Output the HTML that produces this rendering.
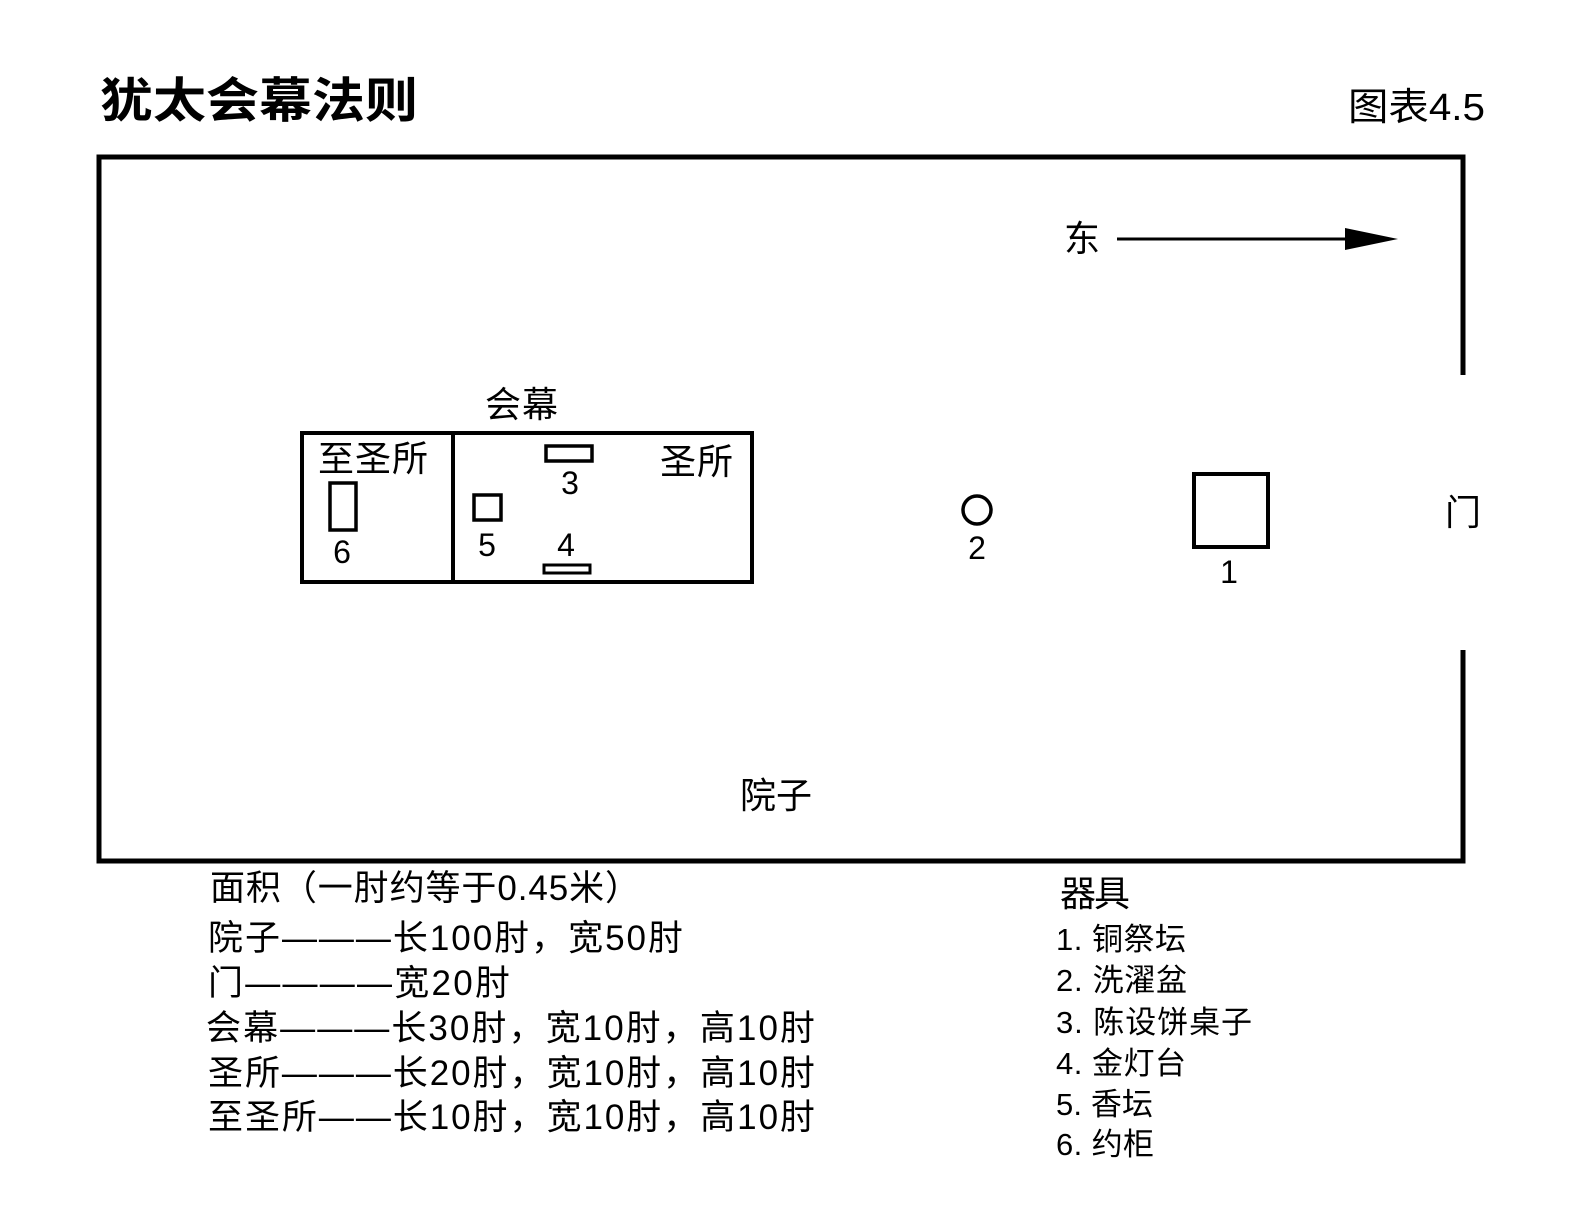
<!DOCTYPE html>
<html><head><meta charset="utf-8"><style>
body{margin:0;background:#fff}
svg{display:block}
text{font-family:"Liberation Sans","Noto Sans CJK SC",sans-serif;fill:#000}
</style></head><body>
<svg width="1572" height="1209" viewBox="0 0 1572 1209">
<text x="100" y="117" font-size="48" font-weight="bold" textLength="318" lengthAdjust="spacingAndGlyphs">犹太会幕法则</text>
<text x="1348" y="120" font-size="38" textLength="137" lengthAdjust="spacingAndGlyphs">图表4.5</text>
<path d="M1463 375 V157 H99 V861 H1463 V650" fill="none" stroke="#000" stroke-width="5"/>
<text x="1064" y="251" font-size="36">东</text>
<line x1="1117" y1="239" x2="1360" y2="239" stroke="#000" stroke-width="3"/>
<polygon points="1345,228 1398,239 1345,250" fill="#000"/>
<text x="1445" y="525" font-size="36">门</text>
<text x="485" y="417" font-size="36" textLength="73">会幕</text>
<rect x="302" y="433" width="450" height="149" fill="none" stroke="#000" stroke-width="4"/>
<line x1="453" y1="433" x2="453" y2="582" stroke="#000" stroke-width="4"/>
<text x="318" y="471" font-size="36" textLength="110">至圣所</text>
<text x="660" y="474" font-size="36" textLength="73">圣所</text>
<rect x="546" y="446" width="46" height="15" fill="none" stroke="#000" stroke-width="3.5"/>
<text x="570" y="494" font-size="32" text-anchor="middle">3</text>
<rect x="544" y="565" width="46" height="8" fill="none" stroke="#000" stroke-width="3"/>
<text x="566" y="556" font-size="32" text-anchor="middle">4</text>
<rect x="474" y="495" width="27" height="25" fill="none" stroke="#000" stroke-width="3.5"/>
<text x="487" y="556" font-size="32" text-anchor="middle">5</text>
<rect x="330" y="483" width="26" height="47" fill="none" stroke="#000" stroke-width="3.5"/>
<text x="342" y="563" font-size="32" text-anchor="middle">6</text>
<circle cx="977" cy="510" r="14" fill="none" stroke="#000" stroke-width="3.5"/>
<text x="977" y="559" font-size="32" text-anchor="middle">2</text>
<rect x="1194" y="474" width="74" height="73" fill="none" stroke="#000" stroke-width="4"/>
<text x="1229" y="583" font-size="32" text-anchor="middle">1</text>
<text x="740" y="808" font-size="36" textLength="72">院子</text>
<g font-size="35">
<text x="210" y="900" textLength="430">面积（一肘约等于0.45米）</text>
<text x="208" y="950" textLength="475">院子———长100肘，宽50肘</text>
<text x="208" y="995" textLength="302">门————宽20肘</text>
<text x="206" y="1040" textLength="609">会幕———长30肘，宽10肘，高10肘</text>
<text x="208" y="1085" textLength="607">圣所———长20肘，宽10肘，高10肘</text>
<text x="208" y="1129" textLength="607">至圣所——长10肘，宽10肘，高10肘</text>
</g>
<text x="1060" y="906" font-size="36" textLength="70">器具</text>
<g font-size="31">
<text x="1056" y="950" textLength="130">1. 铜祭坛</text>
<text x="1056" y="991" textLength="131">2. 洗濯盆</text>
<text x="1056" y="1033" textLength="196">3. 陈设饼桌子</text>
<text x="1056" y="1074" textLength="130">4. 金灯台</text>
<text x="1056" y="1115" textLength="97">5. 香坛</text>
<text x="1056" y="1155" textLength="98">6. 约柜</text>
</g>
</svg>
</body></html>
